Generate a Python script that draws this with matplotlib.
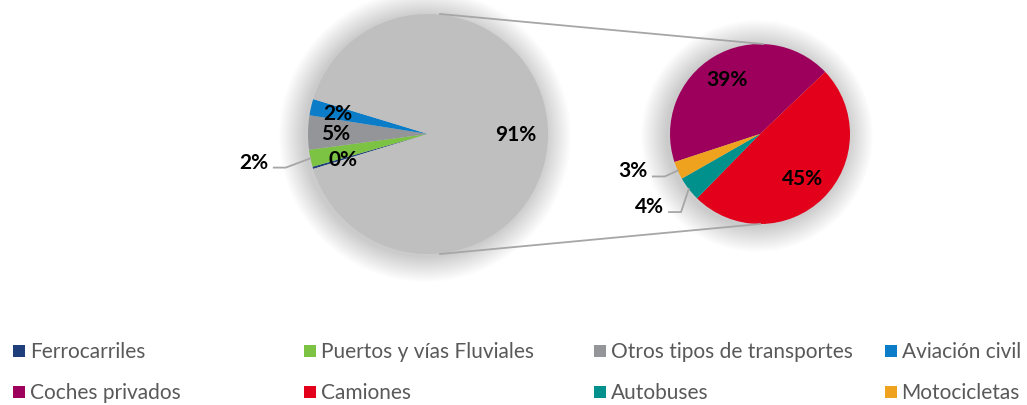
import numpy as np
import matplotlib
matplotlib.use("Agg")
import matplotlib.pyplot as plt
from matplotlib.patches import Circle, Rectangle

plt.rcParams['font.family'] = ['Lato', 'DejaVu Sans']

# datos (% del total)
main_names = ['Ferrocarriles', 'Puertos y vías Fluviales', 'Otros tipos de transportes', 'Aviación civil']
main_vals = [0.3, 2.3, 4.6, 2.2]
road_names = ['Coches privados', 'Camiones', 'Autobuses', 'Motocicletas']
road_vals = [38.9, 44.8, 4.0, 2.9]

main_colors = ['#1F3F7A', '#7CC243', '#939598', '#0A7CC8']
road_colors = ['#9C005C', '#E2001A', '#00918D', '#EFA21E']
road_total_color = '#BFBFBF'

W, H = 1027, 406
fig = plt.figure(figsize=(W / 100, H / 100), dpi=100)
ax = fig.add_axes([0, 0, 1, 1])

c1, r1 = (428, 271), 120
c2, r2 = (760, 271), 90

# sombra suave
for c, r in [(c1, r1), (c2, r2)]:
    for k in range(26, 0, -1):
        ax.add_patch(Circle((c[0] - 3, c[1] - 2), r + k, color='k', alpha=0.006, lw=0, zorder=1))

# pastel principal
road_sum = sum(road_vals)
vals1 = main_vals + [road_sum]
cols1 = main_colors + [road_total_color]
small = sum(main_vals)
start1 = 180 + small * 3.6 / 2
w1, _ = ax.pie(vals1, colors=cols1, center=c1, radius=r1, startangle=start1,
               counterclock=False, normalize=True, wedgeprops=dict(lw=0, zorder=2))

# pastel secundario
start2 = 43.6 + road_vals[0] / road_sum * 360
w2, _ = ax.pie(road_vals, colors=road_colors, center=c2, radius=r2, startangle=start2,
               counterclock=False, normalize=True, wedgeprops=dict(lw=0, zorder=2))
ax.set_xlim(0, W)
ax.set_ylim(0, H)
ax.set_aspect('equal')
ax.axis('off')

lab = dict(fontsize=15, fontweight='bold', color='black', ha='center', va='center', zorder=5)
line = dict(color='#A6A6A6', lw=1.3, zorder=4)

def mid(w):
    return np.deg2rad((w.theta1 + w.theta2) / 2)

def put(w, c, r, f, txt):
    a = mid(w)
    ax.text(c[0] + f * r * np.cos(a), c[1] + f * r * np.sin(a), txt, **lab)

def put_out(w, c, r, ang, txt):
    a = mid(w)
    ex, ey = c[0] + r * np.cos(a), c[1] + r * np.sin(a)
    t = np.deg2rad(ang)
    tx, ty = c[0] + 1.47 * r * np.cos(t), c[1] + 1.47 * r * np.sin(t)
    ax.plot([tx + 20, tx + 32, ex], [ty - 6, ty - 6, ey], **line)
    ax.text(tx, ty, txt, **lab)

put(w1[4], c1, r1, 0.73, '%d%%' % round(vals1[4]))
put(w1[3], c1, r1, 0.77, '%d%%' % round(vals1[3]))
put(w1[2], c1, r1, 0.77, '%d%%' % round(vals1[2]))
put(w1[0], c1, r1, 0.74, '%d%%' % round(vals1[0]))
put_out(w1[1], c1, r1, 189, '%d%%' % round(vals1[1]))

put(w2[0], c2, r2, 0.71, '%d%%' % round(road_vals[0]))
put(w2[1], c2, r2, 0.68, '%d%%' % round(road_vals[1]))
put_out(w2[3], c2, r2, 196, '%d%%' % round(road_vals[3]))
put_out(w2[2], c2, r2, 213, '%d%%' % round(road_vals[2]))

# líneas de conexión
ax.plot([440, 763], [H - 15, H - 45], **line)
ax.plot([440, 760], [H - 255, H - 225], **line)

# leyenda
names = main_names + road_names
cols = main_colors + road_colors
for i, (n, col) in enumerate(zip(names, cols)):
    x = 13 + (i % 4) * 290.5
    y = H - (352 if i < 4 else 393)
    ax.add_patch(Rectangle((x, y - 6), 12, 12, color=col, lw=0))
    ax.text(x + 17, y, n, fontsize=15, color='#595959', ha='left', va='center')

fig.savefig('out.png', dpi=100)
